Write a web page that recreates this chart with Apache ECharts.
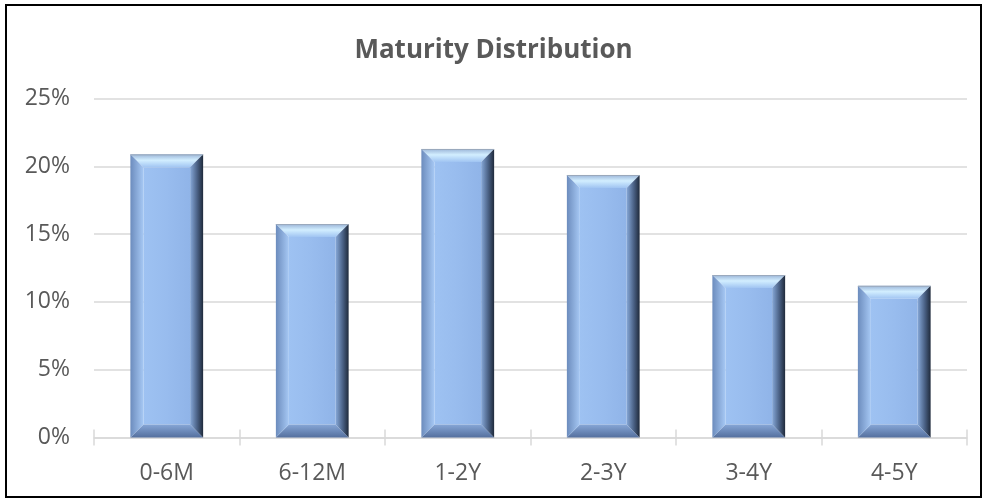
<!DOCTYPE html>
<html>
<head>
<meta charset="utf-8">
<script src="https://cdn.jsdelivr.net/npm/echarts@6/dist/echarts.min.js"></script>
<style>
html,body{margin:0;padding:0;background:#fff;}
#c{width:987px;height:502px;}
</style>
</head>
<body>
<div id="c"></div>
<script>
const categories = ['0-6M','6-12M','1-2Y','2-3Y','3-4Y','4-5Y'];
const shares = [0.2088, 0.1574, 0.2128, 0.1936, 0.1198, 0.1119];
const yTicks = { min: 0, max: 0.25, interval: 0.05 };
const titleText = 'Maturity Distribution';

const chart = echarts.init(document.getElementById('c'), null, {renderer:'canvas'});
const G = echarts.graphic;
function lg(x, y, x2, y2, stops){
  return new G.LinearGradient(x, y, x2, y2, stops.map((c,i)=>({offset:c[0], color:c[1]})));
}
function renderBar(params, api){
  const xv = api.value(0), yv = api.value(1);
  const top = api.coord([xv, yv]);
  const base = api.coord([xv, 0]);
  const w = api.size([1, 0])[0] * 0.5;
  const x0 = top[0] - w/2, x1 = top[0] + w/2;
  const y0 = top[1], y1 = base[1];
  const h = y1 - y0;
  const b = Math.min(13, h/2, w/2);
  return {
    type: 'group',
    children: [
      { type:'rect', shape:{x:x0+b, y:y0+b, width:w-2*b, height:Math.max(0,h-2*b)},
        style:{fill: lg(0,0,1,0,[[0,'#9ec2f2'],[0.5,'#98bcee'],[1,'#90b4e8']])} },
      { type:'polygon', shape:{points:[[x0,y0],[x1,y0],[x1-b,y0+b],[x0+b,y0+b]]},
        style:{fill: lg(0,0,0,1,[[0,'#9bb5d8'],[0.45,'#d2eeff'],[1,'#a0c4f2']])} },
      { type:'polygon', shape:{points:[[x0,y1],[x1,y1],[x1-b,y1-b],[x0+b,y1-b]]},
        style:{fill: lg(0,0,0,1,[[0,'#86a6d6'],[1,'#55709e']])} },
      { type:'polygon', shape:{points:[[x0,y0],[x0+b,y0+b],[x0+b,y1-b],[x0,y1]]},
        style:{fill: lg(0,0,1,0,[[0,'#6c8cbd'],[1,'#a6c8f4']])} },
      { type:'polygon', shape:{points:[[x1,y0],[x1-b,y0+b],[x1-b,y1-b],[x1,y1]]},
        style:{fill: lg(0,0,1,0,[[0,'#86a8d8'],[0.55,'#4a6185'],[1,'#1f2a3b']])} },
      { type:'polyline', shape:{points:[[x0,y0+0.5],[x1,y0+0.5]]},
        style:{stroke:'#9aa8bb', lineWidth:1, fill:null} }
    ]
  };
}

chart.setOption({
  backgroundColor: '#ffffff',
  animation: false,
  title: {
    text: titleText,
    left: 'center',
    top: 33,
    textStyle: { fontFamily: 'Open Sans', fontSize: 26, fontWeight: 'bold', color: '#595959' }
  },
  graphic: [{
    type: 'rect', silent: true, z: 100,
    shape: { x: 6, y: 5, width: 975, height: 492 },
    style: { fill: null, stroke: '#000000', lineWidth: 2 }
  }],
  grid: { left: 94, right: 20, top: 98.5, bottom: 64.5 },
  xAxis: [{
    type: 'category',
    data: categories,
    boundaryGap: true,
    axisLine: { lineStyle: { color: '#d9d9d9', width: 1.5 } },
    axisTick: { show: true, length: 8, lineStyle: { color: '#d9d9d9', width: 1.5 } },
    axisLabel: { color: '#595959', fontFamily: 'Open Sans', fontSize: 23, margin: 24 },
    splitLine: { show: false }
  }, {
    type: 'category',
    data: categories,
    position: 'bottom',
    boundaryGap: true,
    axisLine: { show: false },
    axisTick: { show: true, inside: true, length: 8, lineStyle: { color: '#d9d9d9', width: 1.5 } },
    axisLabel: { show: false },
    splitLine: { show: false }
  }],
  yAxis: {
    type: 'value',
    min: yTicks.min, max: yTicks.max, interval: yTicks.interval,
    axisLine: { show: false },
    axisTick: { show: false },
    axisLabel: {
      color: '#595959', fontFamily: 'Open Sans', fontSize: 23, margin: 24,
      formatter: v => Math.round(v * 100) + '%'
    },
    splitLine: { lineStyle: { color: '#d9d9d9', width: 1.5 } }
  },
  series: [{
    type: 'custom',
    renderItem: renderBar,
    encode: { x: 0, y: 1 },
    data: categories.map((c, i) => [i, shares[i]]),
    z: 10
  }]
});
</script>
</body>
</html>
